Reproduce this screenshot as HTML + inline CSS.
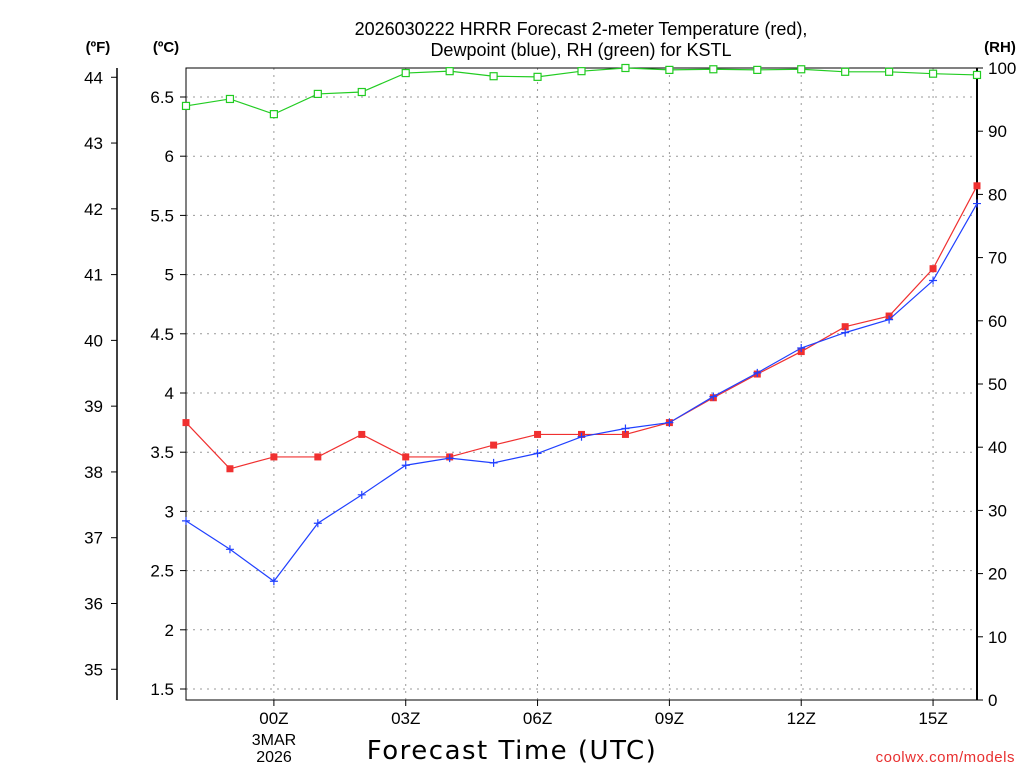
<!DOCTYPE html>
<html><head><meta charset="utf-8"><style>
body{margin:0;background:#fff;width:1024px;height:768px;overflow:hidden}
svg text{font-family:"Liberation Sans","DejaVu Sans",sans-serif}
</style></head><body>
<svg id="c" width="1024" height="768" xmlns="http://www.w3.org/2000/svg">
<text x="581" y="35" text-anchor="middle" font-size="18">2026030222 HRRR Forecast 2-meter Temperature (red),</text>
<text x="581" y="56" text-anchor="middle" font-size="18">Dewpoint (blue), RH (green) for KSTL</text>
<text x="98" y="52" text-anchor="middle" font-size="15" font-weight="bold">(ºF)</text>
<text x="166" y="52" text-anchor="middle" font-size="15" font-weight="bold">(ºC)</text>
<text x="1000" y="52" text-anchor="middle" font-size="15" font-weight="bold">(RH)</text>
<text x="512" y="759" text-anchor="middle" font-size="26" letter-spacing="1.5" style="font-family:'DejaVu Sans',sans-serif">Forecast Time (UTC)</text>
<text x="1015" y="762" text-anchor="end" font-size="15" fill="#e83030" letter-spacing="0.5">coolwx.com/models</text>
<text x="274" y="745" text-anchor="middle" font-size="16">3MAR</text>
<text x="274" y="762" text-anchor="middle" font-size="16">2026</text>
</svg>
<script>
const hours=[0,1,2,3,4,5,6,7,8,9,10,11,12,13,14,15,16,17,18];
const xTickLabels=["00Z","03Z","06Z","09Z","12Z","15Z"];
const xTickHours=[2,5,8,11,14,17];
const tempC=[3.75,3.36,3.46,3.46,3.65,3.46,3.46,3.56,3.65,3.65,3.65,3.75,3.96,4.16,4.35,4.56,4.65,5.05,5.75];
const dewC=[2.92,2.68,2.41,2.90,3.14,3.39,3.45,3.41,3.49,3.63,3.70,3.75,3.97,4.17,4.38,4.51,4.62,4.95,5.60];
const rh=[94.0,95.1,92.7,95.9,96.2,99.2,99.5,98.7,98.6,99.5,100,99.7,99.8,99.7,99.8,99.4,99.4,99.1,98.9];
const cTicks=[1.5,2,2.5,3,3.5,4,4.5,5,5.5,6,6.5];
const fTicks=[35,36,37,38,39,40,41,42,43,44];
const rhTicks=[0,10,20,30,40,50,60,70,80,90,100];
const L=186,R=977,T=68,B=700;
const xS=h=>L+h*(R-L)/18;
const yC=c=>97+(6.5-c)*118.4;
const yF=f=>yC((f-32)*5/9);
const yR=r=>B-(r/100)*(B-T);
const svg=document.getElementById('c');const NS='http://www.w3.org/2000/svg';
function mk(t,a){const e=document.createElementNS(NS,t);for(const k in a)e.setAttribute(k,a[k]);svg.appendChild(e);return e;}
let e;
cTicks.forEach(c=>{
e=mk('line',{x1:L,x2:R,y1:yC(c),y2:yC(c),stroke:'#999','stroke-dasharray':'2,5'});


e=mk('line',{x1:L-6,x2:L,y1:yC(c),y2:yC(c),stroke:'#000'});


e=mk('text',{x:174,y:yC(c)+6,'text-anchor':'end','font-size':17});e.textContent=c;

});
xTickHours.forEach((h,i)=>{
e=mk('line',{x1:xS(h),x2:xS(h),y1:T,y2:B,stroke:'#999','stroke-dasharray':'2,5'});


e=mk('line',{x1:xS(h),x2:xS(h),y1:B,y2:B+6,stroke:'#000'});


e=mk('text',{x:xS(h),y:724,'text-anchor':'middle','font-size':17});e.textContent=xTickLabels[i];

});
fTicks.forEach(f=>{
e=mk('line',{x1:111,x2:117,y1:yF(f),y2:yF(f),stroke:'#000'});


e=mk('text',{x:103,y:yF(f)+6,'text-anchor':'end','font-size':17});e.textContent=f;

});
rhTicks.forEach(r=>{
e=mk('line',{x1:R,x2:R+6,y1:yR(r),y2:yR(r),stroke:'#000'});


e=mk('text',{x:988,y:yR(r)+6,'font-size':17});e.textContent=r;

});
e=mk('rect',{x:L,y:T,width:R-L,height:B-T,fill:'none',stroke:'#000','stroke-width':1});


e=mk('line',{x1:R,x2:R,y1:T,y2:B,stroke:'#000','stroke-width':2});


e=mk('line',{x1:117,x2:117,y1:T,y2:B,stroke:'#000','stroke-width':1.5});


function series(vals,yf,col,name,mark){
const p=vals.map((v,i)=>xS(hours[i])+','+yf(v)).join(' ');
e=mk('polyline',{points:p,fill:'none',stroke:col,'stroke-width':1.2});


vals.forEach((v,i)=>{const x=xS(hours[i]),y=yf(v);
if(mark==='sq')e=mk('rect',{x:x-3.5,y:y-3.5,width:7,height:7,fill:col});
else if(mark==='open')e=mk('rect',{x:x-3.5,y:y-3.5,width:7,height:7,fill:'#fff',stroke:col,'stroke-width':1.2});
else e=mk('path',{d:`M${x-4},${y}H${x+4}M${x},${y-4}V${y+4}`,stroke:col,'stroke-width':1.2});

});}
series(rh,yR,'#22cc22','rh','open');
series(tempC,yC,'#f03030','temperature','sq');
series(dewC,yC,'#2040ff','dewpoint','plus');
</script>
</body></html>
